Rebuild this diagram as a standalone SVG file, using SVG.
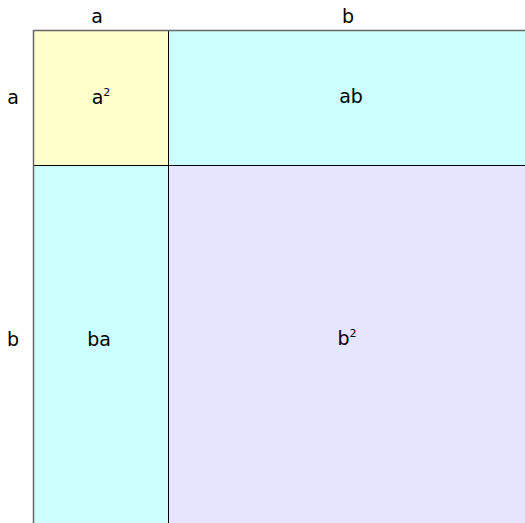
<svg xmlns="http://www.w3.org/2000/svg" width="525" height="523" viewBox="0 0 525 523">
<style>
text{font-family:"DejaVu Sans",sans-serif;font-size:19px;fill:#000;text-anchor:middle}
.sup{font-size:11px}
.in{stroke:#000;stroke-width:1;fill:none}
.out{stroke:#666;stroke-width:1.5;fill:none}
</style>
<g id="a2"><rect x="33.5" y="30.5" width="135" height="135" fill="#ffffcc"/><text x="101" y="104">a<tspan class="sup" dy="-8">2</tspan></text></g>
<g id="ab"><rect x="168.5" y="30.5" width="360" height="135" fill="#ccffff"/><text x="351" y="103">ab</text></g>
<g id="ba"><rect x="33.5" y="165.5" width="135" height="360" fill="#ccffff"/><text x="99" y="346">ba</text></g>
<g id="b2"><rect x="168.5" y="165.5" width="360" height="360" fill="#e5e5ff"/><text x="347" y="345">b<tspan class="sup" dy="-8">2</tspan></text></g>
<g id="lines">
<line class="in" x1="168.5" y1="30" x2="168.5" y2="523"/>
<line class="in" x1="33" y1="165.5" x2="525" y2="165.5"/>
<line class="out" x1="33.5" y1="30.5" x2="525" y2="30.5"/>
<line class="out" x1="33.5" y1="30" x2="33.5" y2="523"/>
</g>
<g id="labels">
<text x="97" y="23">a</text>
<text x="348" y="23">b</text>
<text x="13" y="104">a</text>
<text x="13" y="346">b</text>
</g>
</svg>
